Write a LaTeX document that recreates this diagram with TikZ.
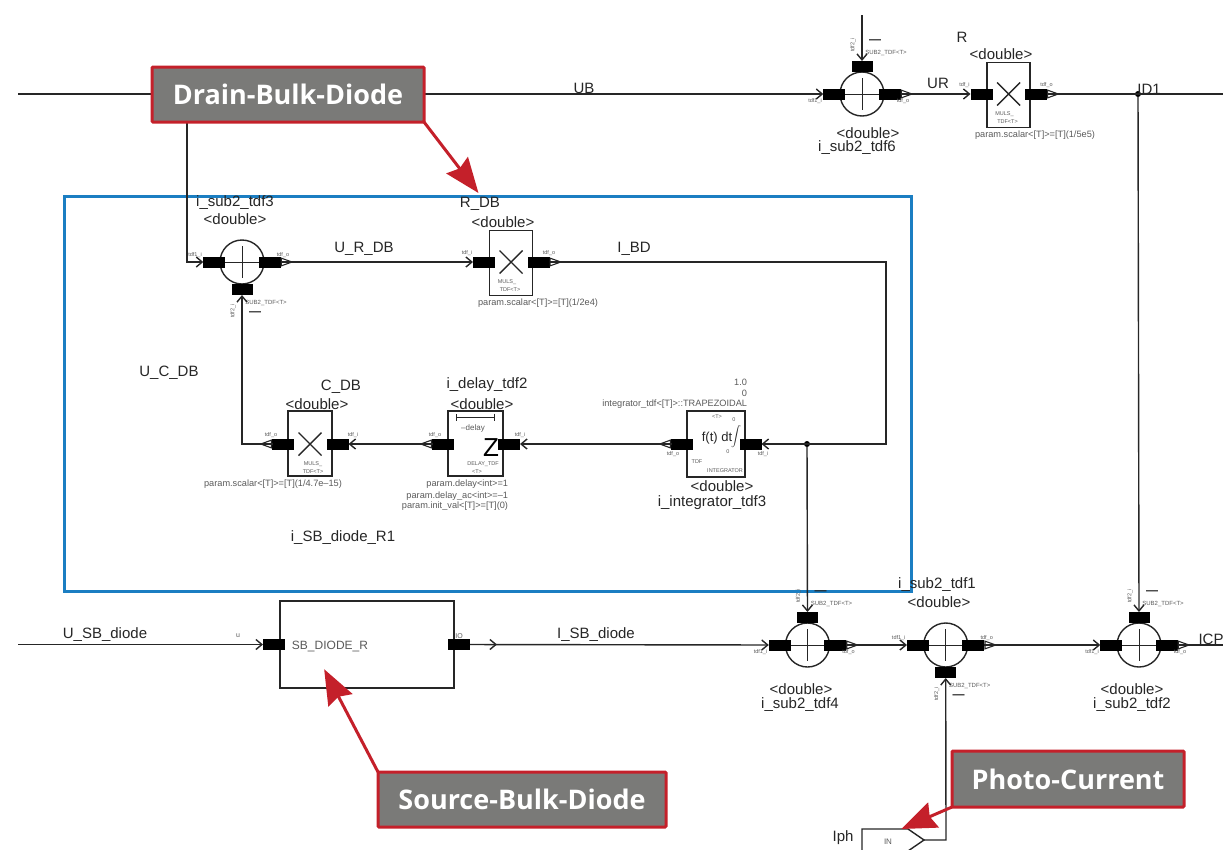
\documentclass[tikz,border=0pt]{standalone}
\usepackage{fontspec}
\setmainfont{Liberation Sans}
\newfontfamily\callfont{Open Sans}
\usetikzlibrary{arrows.meta,shapes.misc}
\definecolor{wireblack}{HTML}{262626}
\definecolor{tinygray}{HTML}{5A5A5A}
\definecolor{frameblue}{HTML}{1B7EC2}
\definecolor{callred}{HTML}{C4202A}
\definecolor{callgray}{HTML}{7A7A78}
\tikzset{
  lbl/.style={font=\fontsize{15}{17}\selectfont,text=wireblack},
  parm/.style={font=\fontsize{9.2}{10}\selectfont,text=tinygray},
  tinylbl/.style={font=\fontsize{5.5}{6}\selectfont,text=tinygray},
  minuslbl/.style={font=\fontsize{12}{13}\selectfont\bfseries,text=wireblack},
  wire/.style={line width=1.4pt,draw=wireblack,-{Straight Barb[length=6pt,width=10pt]}},
  plainwire/.style={line width=1.4pt,draw=wireblack},
  outtip/.style={line width=1.1pt,draw=wireblack,-{Triangle[open,length=13pt,width=9pt]}},
  port/.style={fill=black,minimum width=22pt,minimum height=11pt},
  portv/.style={fill=black,minimum width=21pt,minimum height=11pt},
  sumcirc/.style={circle,draw=wireblack,line width=1.4pt,minimum size=44pt},
  blockbox/.style={draw=wireblack,line width=1.5pt},
  crossmark/.style={cross out,draw=wireblack,line width=1.4pt,minimum size=23pt},
  joindot/.style={circle,fill=black,minimum size=6pt},
  callbox/.style={draw=callred,fill=callgray,line width=3pt,text=white,font=\callfont\fontsize{27}{30}\selectfont\bfseries,rounded corners=1pt},
  callarrow/.style={draw=callred,line width=3pt,-{Stealth[length=35pt,width=27pt,inset=4pt,sep=2.5pt]}},
  every node/.style={inner sep=0pt,outer sep=0pt},
}
\begin{document}
\begin{tikzpicture}[x=1pt,y=-1pt]
  \useasboundingbox (0,0) rectangle (1223,849);
  % Boundary of the drain-bulk part
  \draw[frameblue,line width=3pt] (64,196) rectangle (911,591);
  % Subtractors
  \foreach \n/\x/\y/\s/\t in {sub6/862/94/-1/7,sub3/242/262/1/-7,sub4/807.5/645/-1/7,sub1/945.7/645/1/-7,sub2/1139/645/-1/7} {
    \node[sumcirc] (\n) at (\x,\y) {};
    \draw[line width=1pt,draw=wireblack] (\x,\y-16) -- (\x,\y+16);
    \draw[line width=1pt,draw=wireblack] (\x-20,\y) -- (\x+20,\y);
    \node[port] (\n i) at (\x-27.7,\y) {};
    \node[port] (\n o) at (\x+27.7,\y) {};
    \node[portv] (\n c) at (\x,\y+\s*27.5) {};
    \draw[outtip] (\n o.east) -- +(13,0);
    \node[tinylbl] (\n il) at (\x-47,\y+\t) {tdf1\_i};
    \node[tinylbl] (\n ol) at (\x+41,\y+\t) {tdf\_o};
    \node[tinylbl,rotate=90] (\n cl) at (\x-9,\y+\s*49) {tdf2\_i};
    \node[tinylbl,font=\fontsize{6}{7}\selectfont] (\n sl) at (\x+24,\y+\s*41) {SUB2\_TDF<T>};
    \node[minuslbl] (\n ml) at (\x+13,\y+\s*52) {---};
  }
  % Multipliers
  \foreach \n/\x/\y/\w in {mulr/1008.5/94/0,mulrdb/511/262/0} {
    \node[blockbox,minimum width=43pt,minimum height=65pt] (\n) at (\x,\y+1) {};
    \node[crossmark] (\n x) at (\x,\y) {};
    \node[port] (\n i) at (\x-27,\y) {};
    \node[port] (\n o) at (\x+27.5,\y) {};
    \draw[outtip] (\n o.east) -- +(13,0);
    \node[tinylbl] (\n il) at (\x-44,\y-9) {tdf\_i};
    \node[tinylbl] (\n ol) at (\x+38,\y-9) {tdf\_o};
    \node[tinylbl] (\n ma) at (\x-4,\y+20) {MULS\_};
    \node[tinylbl] (\n mb) at (\x-1,\y+28) {TDF<T>};
  }
  % C_DB multiplier
  \node[blockbox,minimum width=44pt,minimum height=65pt] (mulc) at (310,443.5) {};
  \node[crossmark] (mulcx) at (310,444) {};
  \node[port] (mulco) at (283,444) {};
  \node[port] (mulci) at (337.5,444) {};
  \draw[outtip] (mulco.west) -- +(-13,0);
  \node[tinylbl] (mulcol) at (271,435) {tdf\_o};
  \node[tinylbl] (mulcil) at (353,435) {tdf\_i};
  \node[tinylbl] (mulcma) at (313,464) {MULS\_};
  \node[tinylbl] (mulcmb) at (313,472) {TDF<T>};
  % Delay
  \node[blockbox,minimum width=55pt,minimum height=65pt] (delay) at (475.5,443.5) {};
  \node[font=\fontsize{26}{26}\selectfont,text=black] (delayz) at (491,448) {Z};
  \node[port] (delayo) at (443,444) {};
  \node[port] (delayi) at (509,444) {};
  \draw[outtip] (delayo.west) -- +(-13,0);
  \draw[|-|,line width=1pt,draw=wireblack] (456,417) -- (495,417);
  \node[tinylbl,font=\fontsize{8}{9}\selectfont] (delaytxt) at (473,428) {--delay};
  \node[tinylbl] (delayna) at (483,464) {DELAY\_TDF};
  \node[tinylbl] (delaynb) at (477,472) {<T>};
  \node[tinylbl] (delayol) at (435,435) {tdf\_o};
  \node[tinylbl] (delayil) at (520,435) {tdf\_i};
  % Integrator
  \node[blockbox,minimum width=58pt,minimum height=66pt] (intg) at (716,444) {};
  \node[port] (intgo) at (682,444) {};
  \node[port] (intgi) at (750.5,444) {};
  \draw[outtip] (intgo.west) -- +(-13,0);
  \node[font=\fontsize{13}{14}\selectfont,text=wireblack] (intgf) at (717,438) {f(t) dt};
  \node[font=\fontsize{29}{30}\selectfont,text=wireblack] (intgs) at (736,437) {$\displaystyle\int$};
  \node[tinylbl] (intgup) at (734,420) {0};
  \node[tinylbl] (intgdn) at (728,452) {0};
  \node[tinylbl] (intgt) at (717,417) {<T>};
  \node[tinylbl] (intgna) at (697,462) {TDF};
  \node[tinylbl] (intgnb) at (725,471) {INTEGRATOR};
  \node[tinylbl] (intgol) at (673,454) {tdf\_o};
  \node[tinylbl] (intgil) at (763,454) {tdf\_i};
  % Source-bulk diode
  \node[blockbox,minimum width=174pt,minimum height=87pt] (sbdiode) at (367,644.5) {};
  \node[port] (sbi) at (274,644.5) {};
  \node[port] (sbo) at (459,644.5) {};
  \node[tinylbl,font=\fontsize{12}{13}\selectfont] (sbname) at (330,646) {SB\_DIODE\_R};
  \node[tinylbl,font=\fontsize{7}{8}\selectfont] (sbil) at (238,636) {u};
  \node[tinylbl,font=\fontsize{7}{8}\selectfont] (sbol) at (459,636) {IO};
  % Photo-current source
  \draw[plainwire] (862,851) -- (862,829) -- (908,829) -- (924,840) -- (908,851) -- cycle;
  \coordinate (iphtip) at (924,840);
  \node[tinylbl,font=\fontsize{8}{9}\selectfont] (iphin) at (888,842) {IN};
  % Free ends
  \coordinate (ubstart) at (18,94);
  \coordinate (lineend) at (1223,94);
  \coordinate (sub6top) at (862,15);
  \coordinate (dbdrop) at (187,94);
  \coordinate (bdcorner) at (886,262);
  \coordinate (sbstart) at (18,644.5);
  \coordinate (icpend) at (1223,645);
  \coordinate (iphcorner) at (946,840);
  \node[joindot] (id1join) at (1138,94) {};
  \node[joindot] (bdjoin) at (807,444) {};
  % Flows
  \draw[wire] (ubstart) -- (sub6i);
  \draw[wire] (sub6top) -- (sub6c);
  \draw[wire] (sub6o) -- (mulri);
  \draw[plainwire] (mulro) -- (lineend);
  \draw[wire] (dbdrop) |- (sub3i);
  \draw[wire] (sub3o) -- (mulrdbi);
  \draw[wire] (mulrdbo) -- (bdcorner) |- (intgi);
  \draw[wire] (intgo) -- (delayi);
  \draw[wire] (delayo) -- (mulci);
  \draw[wire] (mulco) -| (sub3c);
  \draw[wire] (bdjoin) -- (sub4c);
  \draw[wire] (id1join) -- (sub2c);
  \draw[wire] (sbstart) -- (sbi);
  \draw[wire] (sbo.east) -- +(27,0);
  \draw[wire] (sbo) -- (sub4i);
  \draw[wire] (sub4o) -- (sub1i);
  \draw[wire] (sub1o) -- (sub2i);
  \draw[plainwire] (sub2o) -- (icpend);
  \draw[wire] (iphtip) -- (iphcorner) -- (sub1c);
  % Signal and instance names
  \node[lbl] (ub) at (584,88) {UB};
  \node[lbl] (ur) at (938,83) {UR};
  \node[lbl] (id1) at (1149,89) {ID1};
  \node[lbl] (rname) at (962,37) {R};
  \node[lbl] (rtype) at (1001,54) {<double>};
  \node[parm] (rparam) at (1035,135) {param.scalar<[T]>=[T](1/5e5)};
  \node[lbl] (sub6type) at (868,133) {<double>};
  \node[lbl] (sub6name) at (857,148) {i\_sub2\_tdf6};
  \node[lbl] (sub3name) at (235,203) {i\_sub2\_tdf3};
  \node[lbl] (sub3type) at (235,219) {<double>};
  \node[lbl] (urdb) at (364,249) {U\_R\_DB};
  \node[lbl] (rdbname) at (480,204) {R\_DB};
  \node[lbl] (rdbtype) at (503,222) {<double>};
  \node[parm] (rdbparam) at (538,303) {param.scalar<[T]>=[T](1/2e4)};
  \node[lbl] (ibd) at (634,249) {I\_BD};
  \node[lbl] (ucdb) at (169,373) {U\_C\_DB};
  \node[lbl] (cdbname) at (341,387) {C\_DB};
  \node[lbl] (cdbtype) at (317,404) {<double>};
  \node[parm] (cdbparam) at (273,484) {param.scalar<[T]>=[T](1/4.7e--15)};
  \node[lbl] (delayname) at (487,385) {i\_delay\_tdf2};
  \node[lbl] (delaytype) at (482,404) {<double>};
  \node[parm,anchor=east] (delaypa) at (508,484) {param.delay<int>=1};
  \node[parm,anchor=east] (delaypb) at (508,496) {param.delay\_ac<int>=--1};
  \node[parm,anchor=east] (delaypc) at (508,506) {param.init\_val<[T]>=[T](0)};
  \node[parm,anchor=east] (intgpa) at (747,382) {1.0};
  \node[parm,anchor=east] (intgpb) at (747,393) {0};
  \node[parm,anchor=east] (intgpc) at (747,404) {integrator\_tdf<[T]>::TRAPEZOIDAL};
  \node[lbl] (intgtype) at (722,486) {<double>};
  \node[lbl] (intgname) at (712,503) {i\_integrator\_tdf3};
  \node[lbl] (sbinst) at (343,538) {i\_SB\_diode\_R1};
  \node[lbl] (usb) at (105,635) {U\_SB\_diode};
  \node[lbl] (isb) at (596,635) {I\_SB\_diode};
  \node[lbl] (sub4type) at (801,689) {<double>};
  \node[lbl] (sub4name) at (800,705) {i\_sub2\_tdf4};
  \node[lbl] (sub1name) at (937,585) {i\_sub2\_tdf1};
  \node[lbl] (sub1type) at (939,602) {<double>};
  \node[lbl] (sub2type) at (1132,689) {<double>};
  \node[lbl] (sub2name) at (1132,705) {i\_sub2\_tdf2};
  \node[lbl] (icp) at (1211,639) {ICP};
  \node[lbl] (iph) at (843,838) {Iph};
  % Callouts
  \node[callbox,minimum width=272pt,minimum height=55pt] (drainlbl) at (288,94.5) {Drain-Bulk-Diode};
  \node[callbox,minimum width=288pt,minimum height=55pt] (sourcelbl) at (522,799.5) {Source-Bulk-Diode};
  \node[callbox,minimum width=232pt,minimum height=56pt] (photolbl) at (1068,779) {Photo-Current};
  \coordinate (draintip) at (480,195);
  \coordinate (sourcetip) at (323,667);
  \coordinate (phototip) at (899,830);
  \draw[callarrow] (drainlbl.south east) -- (draintip);
  \draw[callarrow] (sourcelbl.north west) -- (sourcetip);
  \draw[callarrow] (photolbl.south west) -- (phototip);
\end{tikzpicture}
\end{document}
